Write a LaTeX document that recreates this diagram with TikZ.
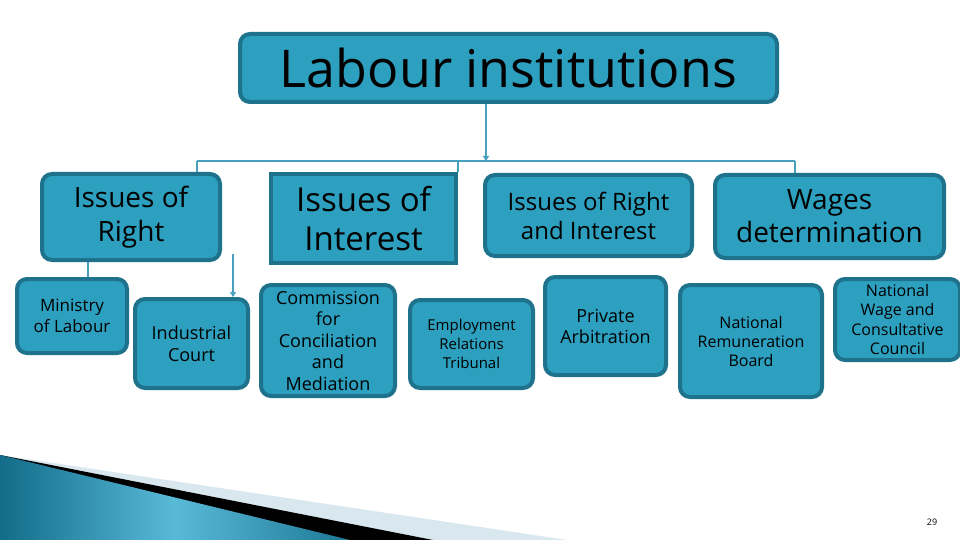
\documentclass[tikz,border=0pt]{standalone}
\usepackage{fontspec}
\setmainfont{Open Sans}
\usetikzlibrary{arrows.meta}
\definecolor{boxFill}{RGB}{45,160,192}
\definecolor{boxBorder}{RGB}{30,114,140}
\definecolor{linkLine}{RGB}{70,160,190}
\definecolor{wedgeLight}{RGB}{216,232,238}
\definecolor{wedgeDark}{RGB}{18,108,138}
\definecolor{wedgeMid}{RGB}{88,186,215}
\tikzset{
  instround/.style={draw=boxBorder, fill=boxFill, line width=4pt, rounded corners=10pt, align=center, inner sep=2pt, text=black},
  instsharp/.style={instround, rounded corners=0pt},
  linkline/.style={draw=linkLine, line width=1.5pt},
  linktip/.style={-{Triangle[length=5pt,width=6pt]}}
}
\newcommand{\instbox}[7]{
  \pgfmathsetmacro{\instcx}{(#2 + #4) / 2}
  \pgfmathsetmacro{\instcy}{(#3 + #5) / 2}
  \pgfmathsetmacro{\instw}{#4 - #2 - 4}
  \pgfmathsetmacro{\insth}{#5 - #3 - 4}

  \node[#6, minimum width=\instw pt, minimum height=\insth pt] (#1) at (\instcx, \instcy) {#7};
}

\begin{document}
\begin{tikzpicture}[x=1pt, y=-1pt]
   \useasboundingbox (0,0) rectangle (960,540);

   \fill[wedgeLight] (0,455) -- (567,540) -- (0,540) -- cycle;
   \fill[black] (0,455) -- (433,540) -- (0,540) -- cycle;
   \shade[left color=wedgeDark, right color=wedgeDark!85!wedgeMid, middle color=wedgeMid] (0,455) -- (350,540) -- (0,540) -- cycle;

   \instbox{title}{238}{32}{779}{104}{instround, font=\fontsize{52}{60}\selectfont}{Labour institutions}

   \instbox{right}{40}{172}{222}{262}{instround, font=\fontsize{28}{34}\selectfont}{Issues of\\Right}
   \instbox{interest}{269}{172}{458}{265}{instsharp, font=\fontsize{33}{39}\selectfont}{Issues of\\Interest}
   \instbox{both}{483}{173}{694}{258}{instround, font=\fontsize{24}{29}\selectfont}{Issues of Right\\and Interest}
   \instbox{wages}{713}{173}{946}{260}{instround, font=\fontsize{28}{33}\selectfont}{Wages\\determination}

   \instbox{ministry}{15}{277}{129}{355}{instround, font=\fontsize{17}{21}\selectfont}{Ministry\\of Labour}
   \instbox{court}{133}{297}{250}{390}{instround, font=\fontsize{18}{22}\selectfont}{Industrial\\Court}
   \instbox{ccm}{259}{283}{397}{398}{instround, font=\fontsize{18}{21.5}\selectfont}{Commission\\for\\Conciliation\\and\\Mediation}
   \instbox{ert}{408}{298}{535}{390}{instround, font=\fontsize{15}{19}\selectfont}{Employment\\Relations\\Tribunal}
   \instbox{arbitration}{543}{275}{668}{377}{instround, font=\fontsize{18}{21}\selectfont}{Private\\Arbitration}
   \instbox{nrb}{678}{283}{824}{399}{instround, font=\fontsize{16}{19}\selectfont}{National\\Remuneration\\Board}
   \instbox{nwcc}{833}{277}{962}{362}{instround, font=\fontsize{16}{19.3}\selectfont}{National\\Wage and\\Consultative\\Council}

   \coordinate (busL) at (197,161);
   \coordinate (busR) at (795,161);
   \coordinate (busM) at (486,161);
   \coordinate (minTap) at (88,270);
   \coordinate (courtTap) at (233,254);

   \draw[linkline] (busL) -- (busR);
   \draw[linkline, linktip] (title.south -| busM) -- (busM);
   \draw[linkline] (busL) -- (right.north -| busL);
   \draw[linkline] (interest.north east |- busL) -- (interest.north east);
   \draw[linkline] (busR) -- (wages.north -| busR);
   \draw[linkline] (right.south -| minTap) -- (ministry.north -| minTap);
   \draw[linkline, linktip] (courtTap) -- (courtTap |- court.north);

   \node[font=\fontsize{9}{10}\selectfont, inner sep=0pt] (pagenum) at (932,522) {29};

\end{tikzpicture}
\end{document}
